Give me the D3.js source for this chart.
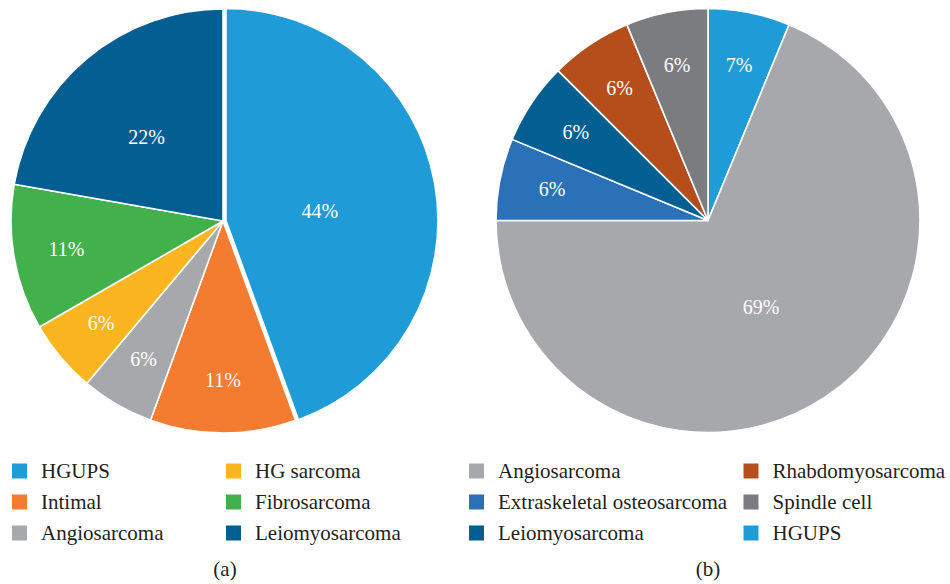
<!DOCTYPE html>
<html>
<head>
<meta charset="utf-8">
<script src="https://cdn.jsdelivr.net/npm/d3@7"></script>
<style>
  html, body { margin: 0; padding: 0; background: #fff; }
  svg { display: block; }
  text { font-family: "Liberation Serif", "DejaVu Serif", serif; }
</style>
</head>
<body>
<svg id="chart" width="950" height="584"></svg>
<script>
// ---- Data ----
const categoriesA = ["HGUPS", "Intimal", "Angiosarcoma", "HG sarcoma", "Fibrosarcoma", "Leiomyosarcoma"];
const valuesA = [8, 2, 1, 1, 2, 4];
const labelsA = ["44%", "11%", "6%", "6%", "11%", "22%"];

const categoriesB = ["HGUPS", "Angiosarcoma", "Extraskeletal osteosarcoma", "Leiomyosarcoma", "Rhabdomyosarcoma", "Spindle cell"];
const valuesB = [1, 11, 1, 1, 1, 1];
const labelsB = ["7%", "69%", "6%", "6%", "6%", "6%"];

const legendOrderA = ["HGUPS", "Intimal", "Angiosarcoma", "HG sarcoma", "Fibrosarcoma", "Leiomyosarcoma"];
const legendOrderB = ["Angiosarcoma", "Extraskeletal osteosarcoma", "Leiomyosarcoma", "Rhabdomyosarcoma", "Spindle cell", "HGUPS"];
const captions = ["(a)", "(b)"];

const colorMap = {
  "HGUPS": "#1f9cd8",
  "Intimal": "#f47c31",
  "Angiosarcoma": "#a7a8ab",
  "HG sarcoma": "#fbb520",
  "Fibrosarcoma": "#42b14c",
  "Leiomyosarcoma": "#035f92",
  "Extraskeletal osteosarcoma": "#2a71b8",
  "Rhabdomyosarcoma": "#b64e1b",
  "Spindle cell": "#7b7c7f"
};

const svg = d3.select("#chart");
const R = 212;

function drawPie(cx, cy, cats, vals, labels, explode) {
  const data = cats.map((c, i) => ({ cat: c, value: vals[i], label: labels[i] }));
  const total = d3.sum(vals);
  const pie = d3.pie().sort(null).value(d => d.value).startAngle(0).endAngle(2 * Math.PI);
  const arc = d3.arc().innerRadius(0).outerRadius(R);
  const g = svg.append("g").attr("transform", `translate(${cx},${cy})`);
  const arcs = pie(data);
  g.selectAll("path").data(arcs).enter().append("path")
    .attr("d", arc)
    .attr("fill", d => colorMap[d.data.cat])
    .attr("stroke", "#fff")
    .attr("stroke-width", 1.6)
    .attr("stroke-linejoin", "round")
    .attr("transform", d => {
      const off = explode[d.data.cat] || 0;
      const m = (d.startAngle + d.endAngle) / 2;
      return `translate(${Math.sin(m) * off},${-Math.cos(m) * off})`;
    });
  g.selectAll("text.lbl").data(arcs).enter().append("text")
    .attr("class", "lbl")
    .attr("text-anchor", "middle")
    .attr("dy", d => (d.data.value / total > 0.15 ? "0.7em" : "0.35em"))
    .attr("fill", "#fff")
    .style("font-size", "20px")
    .attr("transform", d => {
      const frac = d.data.value / total;
      const f = frac > 0.3 ? 0.45 : frac > 0.15 ? 0.56 : 0.75;
      const off = explode[d.data.cat] || 0;
      const m = (d.startAngle + d.endAngle) / 2;
      const rho = R * f + off;
      return `translate(${Math.sin(m) * rho},${-Math.cos(m) * rho})`;
    })
    .text(d => d.data.label);
}

drawPie(223, 221, categoriesA, valuesA, labelsA, { "HGUPS": 3 });
drawPie(708, 220.5, categoriesB, valuesB, labelsB, {});

function drawLegend(items, x0, x1, y0) {
  items.forEach((name, i) => {
    const col = Math.floor(i / 3), row = i % 3;
    const x = col === 0 ? x0 : x1;
    const y = y0 + row * 31;
    svg.append("rect").attr("x", x).attr("y", y - 7.5).attr("width", 15).attr("height", 15)
      .attr("fill", colorMap[name]);
    svg.append("text").attr("x", x + 29).attr("y", y + 6.5)
      .attr("fill", "#231f20").style("font-size", "21px").text(name);
  });
}
drawLegend(legendOrderA, 12, 226, 471);
drawLegend(legendOrderB, 469, 743.5, 471);

svg.append("text").attr("x", 225).attr("y", 576).attr("text-anchor", "middle")
  .attr("fill", "#231f20").style("font-size", "21px").text(captions[0]);
svg.append("text").attr("x", 708).attr("y", 576).attr("text-anchor", "middle")
  .attr("fill", "#231f20").style("font-size", "21px").text(captions[1]);
</script>
</body>
</html>
